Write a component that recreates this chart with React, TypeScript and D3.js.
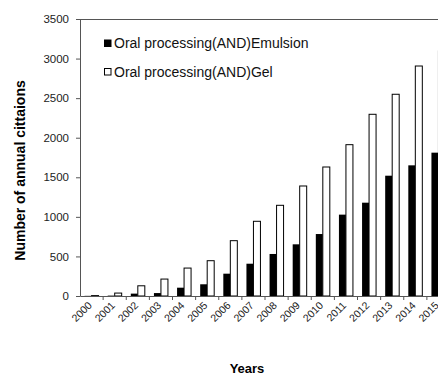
import React, { useEffect, useRef } from 'react';
import * as d3 from 'd3';

const years = ['2000', '2001', '2002', '2003', '2004', '2005', '2006', '2007', '2008', '2009', '2010', '2011', '2012', '2013', '2014', '2015'];
const emulsion = [2, 5, 30, 37, 105, 148, 282, 408, 531, 653, 783, 1028, 1179, 1520, 1651, 1811];
const gel = [5, 37, 129, 214, 353, 446, 699, 944, 1146, 1390, 1630, 1912, 2296, 2549, 2906, 3096];
const yTicks = [0, 500, 1000, 1500, 2000, 2500, 3000, 3500];
const seriesNames = ['Oral processing(AND)Emulsion', 'Oral processing(AND)Gel'];

const App = () => {
  const svgRef = useRef<SVGSVGElement>(null);

  useEffect(() => {
    const svg = d3.select(svgRef.current);
    svg.selectAll('*').remove();

    const font = 'Arial, "Liberation Sans", sans-serif';
    const left = 80;
    const right = 450;
    const top = 19;
    const bottom = 296;

    const x = d3.scaleBand().domain(years).range([left, right]);
    const y = d3.scaleLinear().domain([0, 3500]).range([bottom, top]);

    const bw = 7;
    const pad = (x.bandwidth() - 2 * bw) / 2;

    // bars
    svg.append('g').selectAll('rect')
      .data(years)
      .enter()
      .append('rect')
      .attr('x', d => x(d) + pad)
      .attr('y', (d, i) => y(emulsion[i]))
      .attr('width', bw)
      .attr('height', (d, i) => bottom - y(emulsion[i]))
      .attr('fill', '#000');

    svg.append('g').selectAll('rect')
      .data(years)
      .enter()
      .append('rect')
      .attr('x', d => x(d) + pad + bw)
      .attr('y', (d, i) => y(gel[i]))
      .attr('width', bw)
      .attr('height', (d, i) => bottom - y(gel[i]))
      .attr('fill', '#fff')
      .attr('stroke', '#000')
      .attr('stroke-width', 1);

    // y axis
    const yAxis = svg.append('g')
      .attr('transform', `translate(${left},0)`)
      .call(d3.axisLeft(y).tickValues(yTicks).tickFormat(d3.format('d')).tickSize(4).tickSizeOuter(0));
    yAxis.select('.domain').attr('stroke', '#555');
    yAxis.selectAll('line').attr('stroke', '#555');
    yAxis.selectAll('text')
      .attr('font-family', font)
      .attr('font-size', 11.5)
      .attr('fill', '#222')
      .attr('x', -11);

    // top border
    svg.append('line')
      .attr('x1', left).attr('x2', right)
      .attr('y1', top + 0.5).attr('y2', top + 0.5)
      .attr('stroke', '#555');

    // x axis
    const xAxis = svg.append('g')
      .attr('transform', `translate(0,${bottom})`)
      .call(d3.axisBottom(x).tickSize(0).tickSizeOuter(0));
    xAxis.select('.domain').attr('stroke', '#555');
    xAxis.selectAll('.tick line').remove();
    xAxis.selectAll('.tick text')
      .attr('font-family', font)
      .attr('font-size', 10.5)
      .attr('fill', '#222')
      .attr('text-anchor', 'end')
      .attr('y', 0)
      .attr('dy', 0)
      .attr('transform', 'translate(1,10) rotate(-45)');

    svg.append('g').selectAll('line')
      .data(years.slice(1))
      .enter()
      .append('line')
      .attr('x1', d => x(d)).attr('x2', d => x(d))
      .attr('y1', bottom).attr('y2', bottom + 4)
      .attr('stroke', '#555');

    // legend
    const legend = svg.append('g').attr('font-family', font).attr('font-size', 14);
    seriesNames.forEach((name, i) => {
      const ly = 43 + i * 28.5;
      legend.append('rect')
        .attr('x', 104.5).attr('y', ly - 3)
        .attr('width', 6.5).attr('height', 6.5)
        .attr('fill', i === 0 ? '#000' : '#fff')
        .attr('stroke', '#000');
      legend.append('text')
        .attr('x', 114).attr('y', ly + 5)
        .attr('fill', '#111')
        .text(name);
    });

    // axis titles
    svg.append('text')
      .attr('transform', 'translate(25,170.5) rotate(-90)')
      .attr('text-anchor', 'middle')
      .attr('font-family', font)
      .attr('font-weight', 'bold')
      .attr('font-size', 14)
      .text('Number of annual cittaions');

    svg.append('text')
      .attr('x', 247).attr('y', 373)
      .attr('text-anchor', 'middle')
      .attr('font-family', font)
      .attr('font-weight', 'bold')
      .attr('font-size', 13)
      .text('Years');
  }, []);

  return (
    <svg ref={svgRef} width={438} height={376}
      style={{ position: 'absolute', left: 0, top: 0, background: '#fff' }} />
  );
};

export default App;
